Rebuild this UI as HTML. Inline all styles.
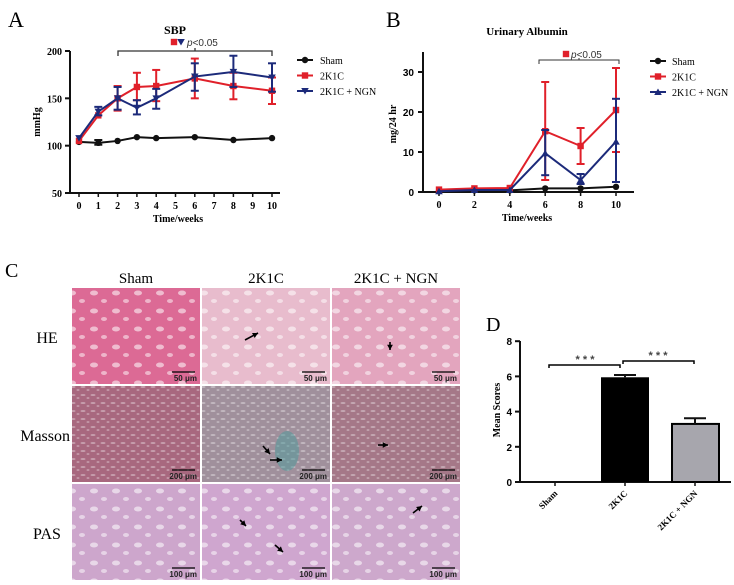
<!DOCTYPE html>
<html><head><meta charset="utf-8"><style>
body{margin:0;background:#fff;width:734px;height:585px;overflow:hidden}
svg{display:block}
text{font-family:"Liberation Serif",serif}
.b{font-weight:bold}
.s{font-family:"Liberation Sans",sans-serif}
</style></head><body>
<svg id="s" width="734" height="585" xmlns="http://www.w3.org/2000/svg">
<defs>
<pattern id="pw" width="22" height="18" patternUnits="userSpaceOnUse">
<ellipse cx="6" cy="5" rx="4" ry="2.5" fill="#fff" opacity="0.55"/>
<ellipse cx="16" cy="13" rx="3" ry="2" fill="#fff" opacity="0.5"/>
</pattern>
<pattern id="pm" width="10" height="8" patternUnits="userSpaceOnUse">
<ellipse cx="3" cy="3" rx="2.5" ry="1" fill="#fff" opacity="0.35"/>
<ellipse cx="8" cy="6" rx="1.5" ry="1" fill="#fff" opacity="0.3"/>
</pattern>
</defs>
<g id="g"></g>
</svg>
<script>
var o='';
function L(x1,y1,x2,y2,c,w){o+=`<line x1="${x1}" y1="${y1}" x2="${x2}" y2="${y2}" stroke="${c}" stroke-width="${w||1.5}"/>`;}
function T(x,y,t,sz,a,cl,c){o+=`<text x="${x}" y="${y}" font-size="${sz}" text-anchor="${a||'start'}" class="${cl||''}" fill="${c||'#000'}">${t}</text>`;}
function mk(x,y,t,c){if(t==0)o+=`<circle cx="${x}" cy="${y}" r="3.2" fill="${c}"/>`;else if(t==1)o+=`<rect x="${x-3.2}" y="${y-3.2}" width="6.4" height="6.4" fill="${c}"/>`;else if(t==2)o+=`<path d="M${x-3.8},${y-3} L${x+3.8},${y-3} L${x},${y+3.5}Z" fill="${c}"/>`;else o+=`<path d="M${x-3.8},${y+3} L${x+3.8},${y+3} L${x},${y-3.5}Z" fill="${c}"/>`;}
function ser(xs,ys,err,xf,yf,c,t){var p=xs.map((w,i)=>xf(w)+','+yf(ys[i])).join(' ');
 if(err)for(var k in err){var x=xf(+k),a=yf(err[k][0]),b=yf(err[k][1]);L(x,a,x,b,c,2);L(x-4,a,x+4,a,c,2);L(x-4,b,x+4,b,c,2);}
 o+=`<polyline points="${p}" fill="none" stroke="${c}" stroke-width="2"/>`;xs.forEach((w,i)=>mk(xf(w),yf(ys[i]),t,c));}
var R='#e0202a',N='#1c2a7a',K='#111';
// Panel A
T(8,27,'A',22);
var ax=w=>79+w*19.3, ay=v=>51+(200-v)*0.9467;
L(70,51,70,193,K,2);L(70,193,280,193,K,2);
[200,150,100,50].forEach(v=>{L(65,ay(v),70,ay(v),K,2);T(62,ay(v)+4,v,10,'end','b');});
for(var w=0;w<=10;w++){L(ax(w),193,ax(w),197,K,1.5);T(ax(w),209,w,10,'middle','b');}
T(178,222,'Time/weeks',10,'middle','b');
o+=`<text x="40" y="122" font-size="10" class="b" text-anchor="middle" transform="rotate(-90 40 122)">mmHg</text>`;
T(175,34,'SBP',12,'middle','b');
o+=`<path d="M118,56 V51 H272 V56 M195,51 V48" fill="none" stroke="#333" stroke-width="1.3"/>`;
mk(174,42,1,R);mk(181,42,2,N);T(187,46,'<tspan font-style="italic">p</tspan>&lt;0.05',10,'start','s','#333');
ser([0,1,2,3,4,6,8,10],[104,103,105,109,108,109,106,108],{1:[101,106]},ax,ay,K,0);
ser([0,1,2,3,4,6,8,10],[105,132,150,162,163,171,163,158],{2:[137,163],3:[148,177],4:[147,180],6:[150,192],8:[149,177],10:[144,172]},ax,ay,R,1);
ser([0,1,2,3,4,6,8,10],[108,136,150,140,150,173,178,172],{1:[132,141],2:[138,162],3:[133,148],4:[139,160],6:[158,187],8:[162,195],10:[157,187]},ax,ay,N,2);
[[0,K,'Sham'],[1,R,'2K1C'],[2,N,'2K1C + NGN']].forEach((e,i)=>{var y=60+i*15.5;L(297,y,313,y,e[1],2);mk(305,y,e[0],e[1]);T(320,y+4,e[2],10);});
// Panel B
T(386,27,'B',22);
var bx=w=>439+w*17.7, by=v=>192-v*4;
L(423,52,423,192,K,2);L(423,192,634,192,K,2);
[0,10,20,30].forEach(v=>{L(418,by(v),423,by(v),K,2);T(414,by(v)+4,v,10,'end','b s');});
[0,2,4,6,8,10].forEach(w=>{L(bx(w),192,bx(w),196,K,1.5);T(bx(w),208,w,10,'middle','b');});
T(527,221,'Time/weeks',10,'middle','b');
o+=`<text x="396" y="124" font-size="10" class="b" text-anchor="middle" transform="rotate(-90 396 124)">mg/24 hr</text>`;
T(527,35,'Urinary Albumin',11,'middle','b');
o+=`<path d="M539,64 V60 H619 V64 M579,60 V58" fill="none" stroke="#333" stroke-width="1"/>`;
mk(566,54,1,R);T(571,58,'<tspan font-style="italic">p</tspan>&lt;0.05',10,'start','s','#333');
ser([0,2,4,6,8,10],[0.2,0.4,0.4,0.9,0.9,1.3],null,bx,by,K,0);
ser([0,2,4,6,8,10],[0.6,0.9,1.0,15.2,11.5,20.5],{6:[3,27.5],8:[7,16],10:[10,31]},bx,by,R,1);
ser([0,2,4,6,8,10],[0.2,0.5,0.5,9.7,3,12.6],{6:[4.2,15.5],8:[2,4.5],10:[2.5,23.3]},bx,by,N,3);
[[0,K,'Sham'],[1,R,'2K1C'],[3,N,'2K1C + NGN']].forEach((e,i)=>{var y=61+i*15.5;L(650,y,666,y,e[1],2);mk(658,y,e[0],e[1]);T(672,y+4,e[2],10);});
// Panel C
T(5,277,'C',20);
var cols=[72,202,332],rows=[288,386,484];
['Sham','2K1C','2K1C + NGN'].forEach((t,i)=>T(cols[i]+64,283,t,15,'middle'));
['HE','Masson','PAS'].forEach((t,i)=>T(i==1?70:47,rows[i]+55,t,16,i==1?'end':'middle'));
var col=[['#dc6a95','#e8bccd','#e3a5be'],['#a8687f','#a0909c','#a57888'],['#cda6cc','#cfa6cf','#cda8cc']];
for(var r=0;r<3;r++)for(var c=0;c<3;c++){var x=cols[c],y=rows[r];
o+=`<rect x="${x}" y="${y}" width="128" height="96" fill="${col[r][c]}"/>`;
o+=`<rect x="${x}" y="${y}" width="128" height="96" fill="url(#${r==1?'pm':'pw'})"/>`;
if(r==1&&c==1)o+=`<ellipse cx="${x+85}" cy="${y+65}" rx="12" ry="20" fill="#4a9a9a" opacity="0.5"/>`;
L(x+100,y+84,x+123,y+84,'#000',1.2);T(x+125,y+93,['50 μm','200 μm','100 μm'][r],8,'end','b s','#222');}
// arrows
function ar(x1,y1,x2,y2){o+=`<line x1="${x1}" y1="${y1}" x2="${x2}" y2="${y2}" stroke="#000" stroke-width="1.6"/>`;var a=Math.atan2(y2-y1,x2-x1);o+=`<path d="M${x2},${y2} L${x2-6*Math.cos(a-0.5)},${y2-6*Math.sin(a-0.5)} L${x2-6*Math.cos(a+0.5)},${y2-6*Math.sin(a+0.5)}Z"/>`;}
ar(245,340,258,333);ar(390,342,390,350);ar(263,446,270,454);ar(270,460,282,460);ar(378,445,388,445);ar(240,520,246,526);ar(275,545,283,552);ar(413,513,422,506);
// Panel D
T(486,331,'D',20);
var dy=v=>482-v*17.6;
L(520,341,520,482,K,2);L(520,482,731,482,K,2);
[0,2,4,6,8].forEach(v=>{L(515,dy(v),520,dy(v),K,2);T(512,dy(v)+4,v,10,'end','b s');});
o+=`<text x="500" y="410" font-size="10" class="b" text-anchor="middle" transform="rotate(-90 500 410)">Mean Scores</text>`;
o+=`<rect x="601" y="${dy(5.95)}" width="48" height="${5.95*17.6}" fill="#000"/>`;
L(625,dy(5.95),625,dy(6.08),K,2);L(614,dy(6.08),636,dy(6.08),K,2);
o+=`<rect x="672" y="${dy(3.3)}" width="47" height="${3.3*17.6}" fill="#a7a6ad" stroke="#000" stroke-width="2"/>`;
L(695,dy(3.3),695,dy(3.62),K,2);L(684,dy(3.62),706,dy(3.62),K,2);
[555,625,695].forEach(x=>L(x,482,x,486,K,1.5));
o+=`<path d="M549,368 V365 H620 V368 M623,364 V361 H694 V364" fill="none" stroke="#000" stroke-width="1.5"/>`;
T(585,363,'* * *',11,'middle','b s','#444');T(658,359,'* * *',11,'middle','b s','#444');
[['Sham',555],['2K1C',625],['2K1C + NGN',695]].forEach(e=>o+=`<text x="${e[1]+3}" y="494" font-size="9" class="b" text-anchor="end" transform="rotate(-45 ${e[1]+3} 494)">${e[0]}</text>`);
document.getElementById('g').innerHTML=o;
</script>
</body></html>
